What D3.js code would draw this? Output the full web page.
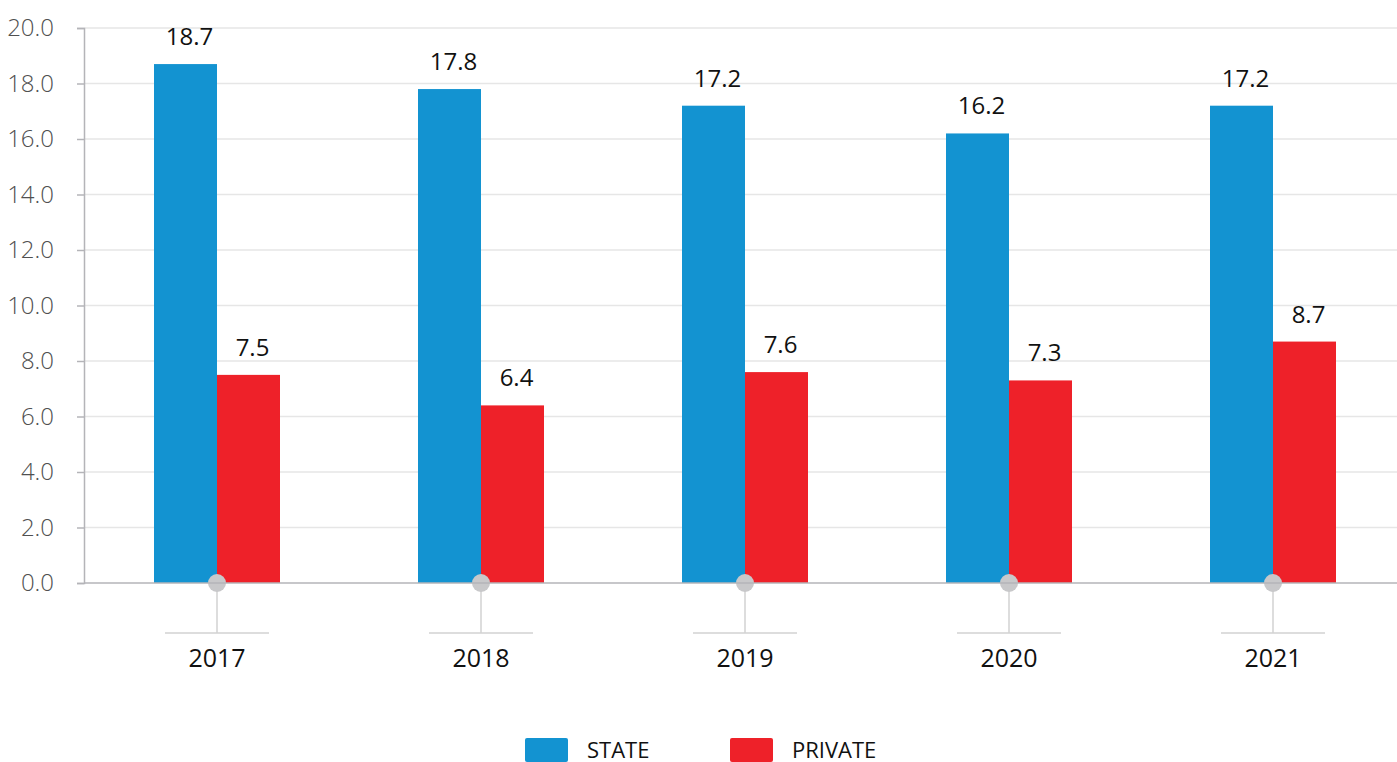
<!DOCTYPE html>
<html>
<head>
<meta charset="utf-8">
<script src="https://cdn.jsdelivr.net/npm/d3@7"></script>
<style>
  body { margin: 0; background: #fff; }
  svg { display: block; font-family: "Open Sans", "Noto Sans", sans-serif; }
</style>
</head>
<body>
<div id="chart"></div>
<script>
var years = ['2017', '2018', '2019', '2020', '2021']
var stateValues = [18.7, 17.8, 17.2, 16.2, 17.2]
var privateValues = [7.5, 6.4, 7.6, 7.3, 8.7]
var yTicks = [0, 2, 4, 6, 8, 10, 12, 14, 16, 18, 20]
var seriesNames = ['STATE', 'PRIVATE']
var seriesColors = ['#1393d1', '#ee2129']

var w = 1397
var h = 762
var plotLeft = 84, plotTop = 28, plotBottom = 583

var svg = d3.select('#chart').append('svg')
  .attr('width', w)
  .attr('height', h)

var x = d3.scaleBand().domain(years).range([plotLeft + 1, plotLeft + 1 + 264 * 5]).padding(0)
var y = d3.scaleLinear().domain([0, 20]).range([plotBottom, plotTop])
var barW = 63

// gridlines
svg.append('g').selectAll('line')
  .data(yTicks.slice(1))
  .enter().append('line')
  .attr('x1', plotLeft).attr('x2', w)
  .attr('y1', function (d) { return y(d) }).attr('y2', function (d) { return y(d) })
  .attr('stroke', '#e6e6e6').attr('stroke-width', 1.5)

// y axis
var yAxis = svg.append('g')
  .attr('transform', 'translate(' + plotLeft + ',0)')
  .call(d3.axisLeft(y).tickValues(yTicks).tickFormat(d3.format('.1f')).tickSize(7).tickPadding(23))
yAxis.select('.domain').attr('stroke', '#b4b4b8').attr('stroke-width', 1.5)
yAxis.selectAll('.tick line').attr('stroke', '#b4b4b8').attr('stroke-width', 1.5)
yAxis.selectAll('.tick text')
  .attr('fill', '#505050').style('font-size', '24px').style('font-weight', 300)
  .style('font-family', '"Open Sans", sans-serif')

// bars
var groups = svg.append('g').selectAll('g')
  .data(years)
  .enter().append('g')

groups.append('rect')
  .attr('x', function (d) { return x(d) + x.bandwidth() / 2 - barW })
  .attr('y', function (d, i) { return y(stateValues[i]) })
  .attr('width', barW)
  .attr('height', function (d, i) { return y(0) - y(stateValues[i]) })
  .attr('fill', seriesColors[0])

groups.append('rect')
  .attr('x', function (d) { return x(d) + x.bandwidth() / 2 })
  .attr('y', function (d, i) { return y(privateValues[i]) })
  .attr('width', barW)
  .attr('height', function (d, i) { return y(0) - y(privateValues[i]) })
  .attr('fill', seriesColors[1])

// value labels
groups.append('text')
  .attr('x', function (d) { return x(d) + x.bandwidth() / 2 - barW / 2 + 4 })
  .attr('y', function (d, i) { return y(stateValues[i]) - 19 })
  .attr('text-anchor', 'middle')
  .style('font-size', '24px')
  .attr('fill', '#111')
  .text(function (d, i) { return stateValues[i].toFixed(1) })

groups.append('text')
  .attr('x', function (d) { return x(d) + x.bandwidth() / 2 + barW / 2 + 4 })
  .attr('y', function (d, i) { return y(privateValues[i]) - 19 })
  .attr('text-anchor', 'middle')
  .style('font-size', '24px')
  .attr('fill', '#111')
  .text(function (d, i) { return privateValues[i].toFixed(1) })

// x baseline
svg.append('line')
  .attr('x1', plotLeft).attr('x2', w)
  .attr('y1', plotBottom).attr('y2', plotBottom)
  .attr('stroke', '#b4b4b8').attr('stroke-width', 1.5)

// category ticks
groups.append('line')
  .attr('x1', function (d) { return x(d) + x.bandwidth() / 2 })
  .attr('x2', function (d) { return x(d) + x.bandwidth() / 2 })
  .attr('y1', plotBottom).attr('y2', 633)
  .attr('stroke', '#d2d2d2').attr('stroke-width', 1.5)

groups.append('line')
  .attr('x1', function (d) { return x(d) + x.bandwidth() / 2 - 52 })
  .attr('x2', function (d) { return x(d) + x.bandwidth() / 2 + 52 })
  .attr('y1', 633).attr('y2', 633)
  .attr('stroke', '#d2d2d2').attr('stroke-width', 1.5)

groups.append('circle')
  .attr('cx', function (d) { return x(d) + x.bandwidth() / 2 })
  .attr('cy', plotBottom)
  .attr('r', 9)
  .attr('fill', '#c8c8ca')

groups.append('text')
  .attr('x', function (d) { return x(d) + x.bandwidth() / 2 })
  .attr('y', 667)
  .attr('text-anchor', 'middle')
  .style('font-size', '25px')
  .attr('fill', '#111')
  .text(function (d) { return d })

// legend
var legendX = [525, 730]
var legend = svg.append('g').selectAll('g')
  .data(seriesNames)
  .enter().append('g')
  .attr('transform', function (d, i) { return 'translate(' + legendX[i] + ',738)' })

legend.append('rect')
  .attr('width', 43).attr('height', 24).attr('rx', 2)
  .attr('fill', function (d, i) { return seriesColors[i] })

legend.append('text')
  .attr('x', 62).attr('y', 20)
  .style('font-size', '22px')
  .attr('fill', '#111')
  .text(function (d) { return d })
</script>
</body>
</html>
